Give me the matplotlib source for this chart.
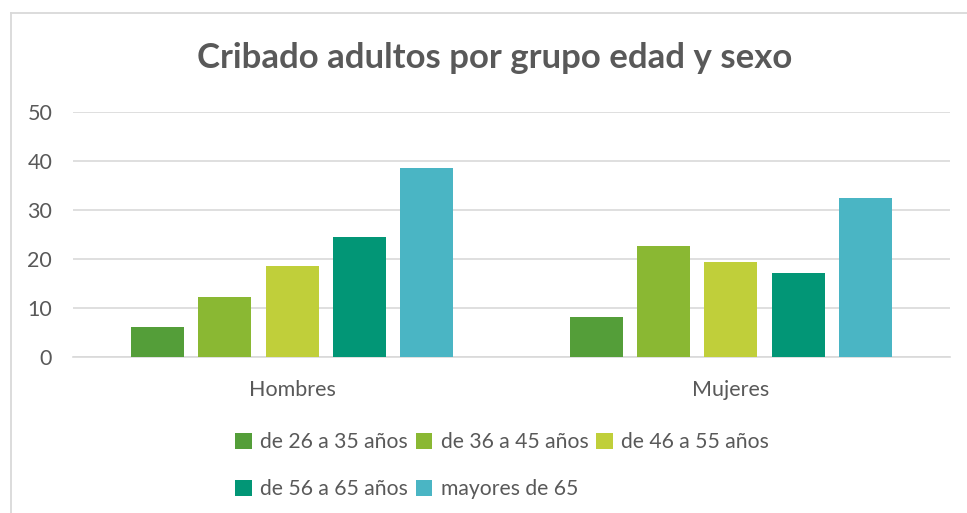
import matplotlib
matplotlib.use("Agg")
import matplotlib.pyplot as plt
import numpy as np
from matplotlib.lines import Line2D

categories = ["Hombres", "Mujeres"]
series_names = ["de 26 a 35 años", "de 36 a 45 años", "de 46 a 55 años",
                "de 56 a 65 años", "mayores de 65"]
s1 = [6.0, 8.1]
s2 = [12.1, 22.6]
s3 = [18.5, 19.4]
s4 = [24.4, 17.1]
s5 = [38.6, 32.4]
yticks = [0, 10, 20, 30, 40, 50]
colors = ["#549E39", "#8AB833", "#C0CF3A", "#029676", "#4AB5C4"]
title = "Cribado adultos por grupo edad y sexo"

plt.rcParams['font.family'] = ['Lato', 'DejaVu Sans']
txt = "#595959"

fig = plt.figure(figsize=(9.67, 5.13), dpi=100)
ax = fig.add_axes([0.0755, 0.3047, 0.9069, 0.4776])

x = np.arange(len(categories))
step = 0.1535
width = 0.121
handles = []
for i, vals in enumerate([s1, s2, s3, s4, s5]):
    b = ax.bar(x + (i - 2) * step, vals, width, color=colors[i], zorder=3,
               label=series_names[i])
    handles.append(b)

ax.set_xlim(-0.5, 1.5)
ax.set_ylim(0, 50)
ax.set_yticks(yticks)
ax.set_yticklabels([str(v) for v in yticks])
ax.set_xticks(x)
ax.set_xticklabels(categories)
ax.yaxis.grid(True, color="#D9D9D9", linewidth=1.2, zorder=0)
ax.set_axisbelow(True)
for sp in ["top", "right", "left"]:
    ax.spines[sp].set_visible(False)
ax.spines["bottom"].set_color("#D9D9D9")
ax.spines["bottom"].set_linewidth(1.2)
ax.tick_params(axis="both", length=0, colors=txt, labelsize=15.5)
ax.tick_params(axis="y", pad=15)
ax.tick_params(axis="x", pad=17)

fig.text(0.511, 0.887, title, ha="center", va="center", fontsize=25,
         fontweight="bold", color=txt)

order = [0, 3, 1, 4, 2]
leg = fig.legend([handles[i] for i in order], [series_names[i] for i in order],
                 ncol=3, loc="upper left", bbox_to_anchor=(0.243, 0.158),
                 frameon=False, fontsize=15.2, labelcolor=txt,
                 handlelength=0.8, handleheight=0.8, handletextpad=0.4,
                 columnspacing=0.35, labelspacing=1.3, borderaxespad=0,
                 borderpad=0)
# chart frame (left/top edges visible; right/bottom cropped)
fig.add_artist(Line2D([10.5/967, 10.5/967], [0, 1 - 12.5/513], color="#D9D9D9",
                      lw=1.3, transform=fig.transFigure))
fig.add_artist(Line2D([10.5/967, 1], [1 - 12.5/513, 1 - 12.5/513], color="#D9D9D9",
                      lw=1.3, transform=fig.transFigure))

fig.savefig("out.png", dpi=100)
